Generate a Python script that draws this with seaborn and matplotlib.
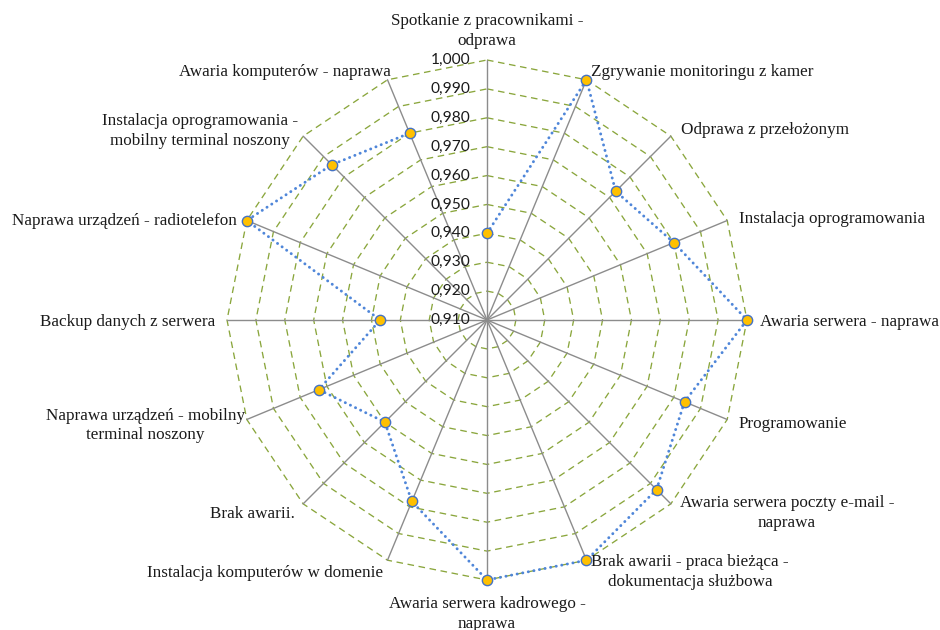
import numpy as np
import pandas as pd
import matplotlib
matplotlib.use("Agg")
import matplotlib.pyplot as plt
import seaborn as sns

categories = [
    "Spotkanie z pracownikami -\nodprawa",
    "Zgrywanie monitoringu z kamer",
    "Odprawa z przełożonym",
    "Instalacja oprogramowania",
    "Awaria serwera - naprawa",
    "Programowanie",
    "Awaria serwera poczty e-mail -\nnaprawa",
    "Brak awarii - praca bieżąca -\ndokumentacja służbowa",
    "Awaria serwera kadrowego -\nnaprawa",
    "Instalacja komputerów w domenie",
    "Brak awarii.",
    "Naprawa urządzeń - mobilny\nterminal noszony",
    "Backup danych z serwera",
    "Naprawa urządzeń - radiotelefon",
    "Instalacja oprogramowania -\nmobilny terminal noszony",
    "Awaria komputerów - naprawa",
]
values = [0.940, 1.000, 0.973, 0.980, 1.000, 0.984, 0.993, 1.000,
          1.000, 0.978, 0.960, 0.973, 0.947, 1.000, 0.986, 0.980]
ticks = [0.910, 0.920, 0.930, 0.940, 0.950, 0.960, 0.970, 0.980, 0.990, 1.000]
tick_labels = ["0,910", "0,920", "0,930", "0,940", "0,950",
               "0,960", "0,970", "0,980", "0,990", "1,000"]

# label placement: (ha, va, dx, dy) offsets in pixels from the outer vertex
label_pos = [
    ("center", "bottom", 0, 11),
    ("left", "center", 5, 8),
    ("left", "center", 10, 6),
    ("left", "center", 12, 2),
    ("left", "center", 13, -2),
    ("left", "center", 11, -5),
    ("left", "center", 9, -9),
    ("left", "center", 5, -12),
    ("center", "top", 0, -16),
    ("right", "center", -4, -13),
    ("right", "center", -8, -10),
    ("right", "center", -2, -6),
    ("right", "center", -12, -2),
    ("right", "center", -10, 0),
    ("right", "center", -5, 5),
    ("right", "center", 3, 8),
]

sns.set_theme(style="white")
plt.rcParams["font.family"] = ["Liberation Serif", "DejaVu Serif"]

n = len(categories)
theta = np.arange(n) * 2 * np.pi / n
theta_closed = np.append(theta, theta[0])

df = pd.DataFrame({
    "theta": theta_closed,
    "value": values + values[:1],
})

fig = plt.figure(figsize=(9.4, 6.3), dpi=100)
fig.patch.set_facecolor("white")
ax = fig.add_axes([227 / 940, 50 / 630, 520 / 940, 520 / 630], projection="polar")
ax.set_theta_zero_location("N")
ax.set_theta_direction(-1)
ax.set_ylim(ticks[0], ticks[-1])
ax.grid(False)
ax.spines["polar"].set_visible(False)
ax.set_facecolor("white")

# polygonal gridlines
grid_color = "#8AA63C"
for t in ticks[1:]:
    ax.plot(theta_closed, [t] * (n + 1), color=grid_color, lw=0.95,
            linestyle=(0, (5, 3.5)), zorder=1, clip_on=False)

# spokes
for th in theta:
    ax.plot([th, th], [ticks[0], ticks[-1]], color="#8C8C8C", lw=1.0,
            zorder=2, clip_on=False)

# data series
sns.lineplot(data=df, x="theta", y="value", sort=False, ax=ax,
             color="#4F86D9", lw=2.1, linestyle=(0, (0.05, 1.9)),
             zorder=3, legend=False)
ax.lines[-1].set_dash_capstyle("round")
ax.lines[-1].set_clip_on(False)
sns.scatterplot(x=theta, y=values, ax=ax, s=55, color="#FFC000",
                edgecolor="#4472C4", linewidth=1.0, zorder=4, legend=False)
for coll in ax.collections:
    coll.set_clip_on(False)

ax.set_xlabel("")
ax.set_ylabel("")
ax.set_xticks([])
ax.set_yticks([])
ax.set_ylim(ticks[0], ticks[-1])

# radial tick labels
for t, lab in zip(ticks, tick_labels):
    ax.annotate(lab, xy=(0, t), xytext=(-17, 0), textcoords="offset pixels",
                ha="right", va="center", fontsize=11.2,
                family=["Lato", "DejaVu Sans"],
                color="#1a1a1a", annotation_clip=False, zorder=5)

# category labels
for th, cat, (ha, va, dx, dy) in zip(theta, categories, label_pos):
    ax.annotate(cat, xy=(th, ticks[-1]), xytext=(dx, dy), textcoords="offset pixels",
                ha=ha, va=va, multialignment="center", fontsize=12.3,
                color="#1a1a1a", annotation_clip=False, linespacing=1.3)

fig.savefig("out.png", dpi=100, facecolor="white")
